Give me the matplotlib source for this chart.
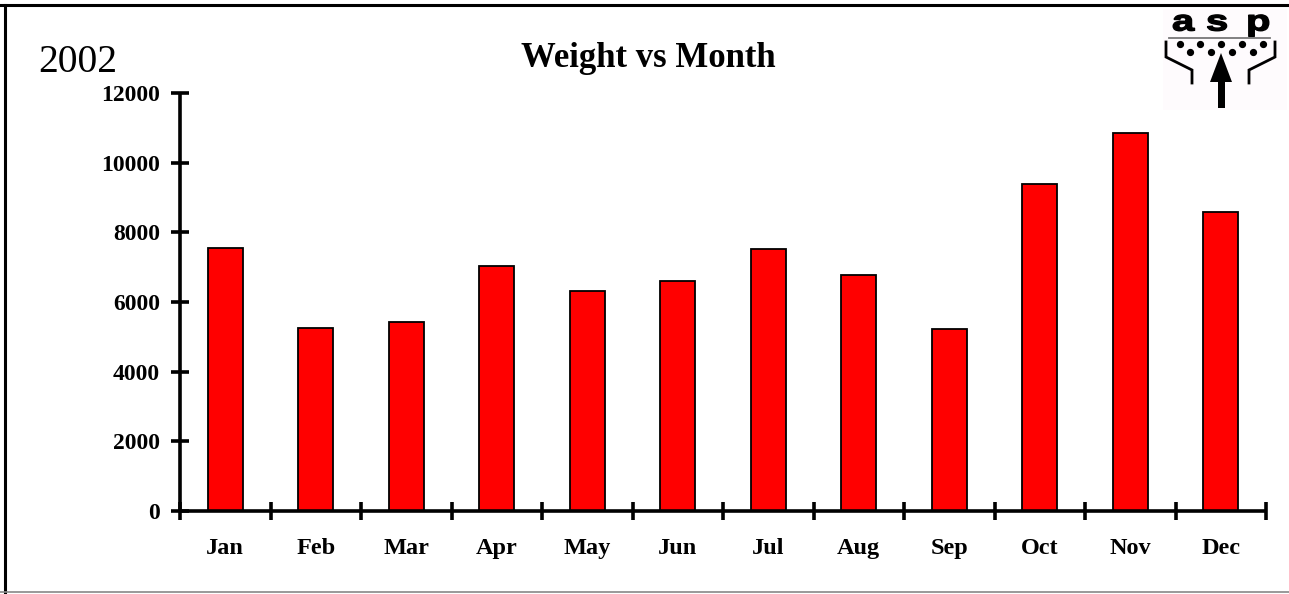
import numpy as np
import matplotlib.pyplot as plt
from matplotlib.lines import Line2D
from matplotlib.patches import Polygon, Rectangle, PathPatch
from matplotlib.textpath import TextPath
from matplotlib.font_manager import FontProperties
from matplotlib.transforms import Affine2D

# dati
months = ['Jan', 'Feb', 'Mar', 'Apr', 'May', 'Jun',
          'Jul', 'Aug', 'Sep', 'Oct', 'Nov', 'Dec']
weights = [7560, 5263, 5435, 7043, 6325, 6612,
           7522, 6776, 5234, 9380, 10844, 8585]
y_ticks = [0, 2000, 4000, 6000, 8000, 10000, 12000]
year = '2002'
title = 'Weight vs Month'

W, H = 1289, 594
serif = 'Liberation Serif'

fig = plt.figure(figsize=(W / 100, H / 100), dpi=100)
fig.patch.set_facecolor('white')

# assi principali
ax = fig.add_axes([180 / W, 1 - 511 / H, (1266 - 180) / W, (511 - 93) / H])
x = np.arange(len(months))
ax.bar(x, weights, width=0.39, color='#ff0000', edgecolor='black', linewidth=1.3)

ax.set_xlim(-0.5, len(months) - 0.5)
ax.set_ylim(y_ticks[0], y_ticks[-1])

for side in ['top', 'right']:
    ax.spines[side].set_visible(False)
for side in ['left', 'bottom']:
    ax.spines[side].set_linewidth(2.6)
    ax.spines[side].set_capstyle('butt')

ax.set_yticks(y_ticks)
ax.set_yticklabels([str(v) for v in y_ticks], fontfamily=serif,
                   fontweight='bold', fontsize=17)
ax.tick_params(axis='y', direction='inout', length=13, width=2.6, pad=8)

# tacche principali ai bordi delle categorie, etichette al centro
ax.set_xticks(np.arange(len(months) + 1) - 0.5)
ax.set_xticklabels([])
ax.set_xticks(x, minor=True)
ax.set_xticklabels(months, minor=True, fontfamily=serif,
                   fontweight='bold', fontsize=17.5)
ax.tick_params(axis='x', which='major', direction='inout', length=13, width=2.6)
ax.tick_params(axis='x', which='minor', length=0, pad=19.5)

# titoli
fig.text(648 / W, 1 - 67 / H, title, ha='center', va='baseline',
         fontfamily=serif, fontweight='bold', fontsize=25)
fig.text(38 / W, 1 - 72 / H, year, ha='left', va='baseline',
         fontfamily=serif, fontsize=28.5)

# cornice
fig.add_artist(Line2D([0, 1], [1 - 5 / H, 1 - 5 / H], transform=fig.transFigure,
                      color='black', linewidth=2.2))
fig.add_artist(Line2D([5 / W, 5 / W], [1 - 592 / H, 1 - 5 / H], transform=fig.transFigure,
                      color='black', linewidth=2.2))
fig.add_artist(Line2D([0, 1], [1 - 592 / H, 1 - 592 / H], transform=fig.transFigure,
                      color='#888888', linewidth=1.2))

# logo "asp" (coordinate in pixel)
lx0, lx1, ly0, ly1 = 1160, 1289, 7, 112
lg = fig.add_axes([lx0 / W, 1 - ly1 / H, (lx1 - lx0) / W, (ly1 - ly0) / H])
lg.set_xlim(lx0, lx1)
lg.set_ylim(ly1, ly0)
lg.axis('off')
lg.add_patch(Rectangle((1163, 9), 124, 101, facecolor='#fefbfd', edgecolor='none'))

fp = FontProperties(family='Liberation Sans', weight='bold')
for ch, left in [('a', 1172), ('s', 1206), ('p', 1246)]:
    tp = TextPath((0, 0), ch, size=1, prop=fp)
    tr = Affine2D().scale(40, -29).translate(left, 30.5)
    lg.add_patch(PathPatch(tr.transform_path(tp), facecolor='black',
                           edgecolor='black', linewidth=1.0))

lg.plot([1169, 1270], [38, 38], color='#777777', linewidth=1.3)
lg.plot([1180, 1200, 1221, 1242, 1263], [43.5] * 5, 'o', color='black', markersize=4.2)
lg.plot([1190, 1211, 1232, 1253], [52] * 4, 'o', color='black', markersize=4.2)

lg.plot([1166, 1166, 1192, 1192], [42, 57, 70, 83], color='black', linewidth=2.0,
        solid_joinstyle='miter')
lg.plot([1275, 1275, 1249, 1249], [42, 57, 70, 83], color='black', linewidth=2.0,
        solid_joinstyle='miter')
lg.add_patch(Polygon([[1221, 53], [1210, 82], [1232, 82]], closed=True,
                     facecolor='black', edgecolor='none'))
lg.add_patch(Rectangle((1218, 81), 6.5, 27, facecolor='black', edgecolor='none'))

fig.savefig('out.png', dpi=100)
